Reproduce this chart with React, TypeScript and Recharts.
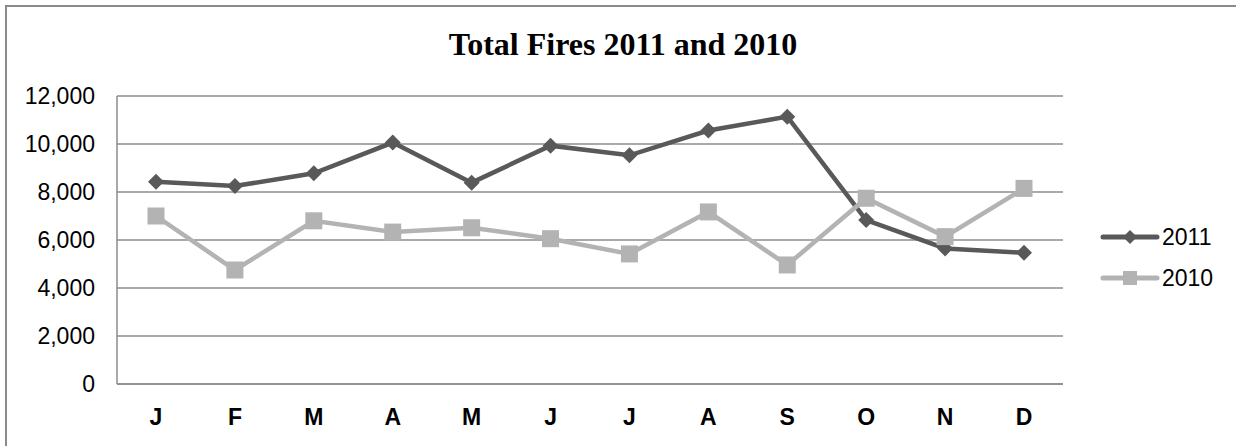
import React from "react";
import { LineChart, Line, XAxis, YAxis, CartesianGrid, Legend } from "recharts";

const months = ["J", "F", "M", "A", "M", "J", "J", "A", "S", "O", "N", "D"];
const fires2011 = [8430, 8250, 8780, 10060, 8390, 9930, 9530, 10560, 11140, 6830, 5650, 5470];
const fires2010 = [7000, 4750, 6800, 6330, 6510, 6055, 5420, 7170, 4960, 7740, 6140, 8150];
const yTicks = [0, 2000, 4000, 6000, 8000, 10000, 12000];
const seriesNames = ["2011", "2010"];
const seriesColors = ["#595959", "#b3b3b3"];

const data = months.map((m, i) => ({
  key: i,
  month: m,
  s2011: fires2011[i],
  s2010: fires2010[i],
}));

const FONT = "'Liberation Sans', Arial, sans-serif";

const Diamond = (props: any) => {
  const { cx, cy, index } = props;
  if (cx == null || cy == null) return <g key={`d${index}`} />;
  const r = 8;
  return (
    <path
      key={`d${index}`}
      d={`M${cx},${cy - r} L${cx + r},${cy} L${cx},${cy + r} L${cx - r},${cy} Z`}
      fill={seriesColors[0]}
    />
  );
};

const Square = (props: any) => {
  const { cx, cy, index } = props;
  if (cx == null || cy == null) return <g key={`s${index}`} />;
  const r = 8.5;
  return <rect key={`s${index}`} x={cx - r} y={cy - r} width={2 * r} height={2 * r} fill={seriesColors[1]} />;
};

const LegendContent = () => {
  return (
    <div style={{ position: "relative", width: 136, height: 90, fontFamily: FONT }}>
      {seriesNames.map((name, i) => (
        <div key={name} style={{ position: "absolute", left: 0, top: i * 41, height: 30, width: 136 }}>
          <svg width={60} height={30} style={{ position: "absolute", left: 0, top: 0 }}>
            <line x1={3} y1={15} x2={57} y2={15} stroke={seriesColors[i]} strokeWidth={5} strokeLinecap="round" />
            {i === 0 ? (
              <path d="M30,8 L37,15 L30,22 L23,15 Z" fill={seriesColors[0]} />
            ) : (
              <rect x={23} y={8} width={14} height={14} fill={seriesColors[1]} />
            )}
          </svg>
          <span
            style={{
              position: "absolute",
              left: 62,
              top: 0,
              lineHeight: "30px",
              fontSize: 23,
              color: "#000",
            }}
          >
            {name}
          </span>
        </div>
      ))}
    </div>
  );
};

export default function App() {
  return (
    <div style={{ position: "absolute", left: 0, top: 0, width: 1236, height: 446, background: "#fff", overflow: "hidden" }}>
      <div
        style={{
          position: "absolute",
          left: 5,
          top: 5,
          width: 1250,
          height: 460,
          border: "2px solid #8a8a8a",
          boxSizing: "border-box",
        }}
      />
      <div
        style={{
          position: "absolute",
          left: 0,
          top: 26,
          width: 1246,
          textAlign: "center",
          fontFamily: "'Liberation Serif', 'Times New Roman', serif",
          fontWeight: "bold",
          fontSize: 32,
          lineHeight: "36px",
          color: "#000",
        }}
      >
        Total Fires 2011 and 2010
      </div>
      <div style={{ position: "absolute", left: 0, top: 0 }}>
        <LineChart
          width={1236}
          height={446}
          data={data}
          margin={{ top: 96, right: 173, bottom: 12, left: 17 }}
        >
          <CartesianGrid vertical={false} stroke="#8c8c8c" strokeWidth={1.5} />
          <XAxis
            dataKey="month"
            interval={0}
            padding={{ left: 39, right: 39 }}
            axisLine={{ stroke: "#8c8c8c", strokeWidth: 1.5 }}
            tickLine={false}
            tickSize={6}
            tickMargin={19}
            height={50}
            tick={{ fill: "#000", fontSize: 23, fontWeight: "bold", fontFamily: FONT }}
            allowDuplicatedCategory={true}
          />
          <YAxis
            domain={[0, 12000]}
            ticks={yTicks}
            width={100}
            axisLine={{ stroke: "#8c8c8c", strokeWidth: 1.5 }}
            tickLine={false}
            tickSize={6}
            tickMargin={16}
            tickFormatter={(v: number) => v.toLocaleString("en-US")}
            tick={{ fill: "#000", fontSize: 23, fontFamily: FONT }}
          />
          <Legend
            layout="horizontal"
            verticalAlign="middle"
            align="center"
            content={LegendContent}
            wrapperStyle={{ left: 1100, top: 222, width: 136, height: 90 }}
          />
          <Line
            name={seriesNames[0]}
            dataKey="s2011"
            stroke={seriesColors[0]}
            strokeWidth={4.5}
            dot={Diamond}
            activeDot={false}
            isAnimationActive={false}
          />
          <Line
            name={seriesNames[1]}
            dataKey="s2010"
            stroke={seriesColors[1]}
            strokeWidth={4.5}
            dot={Square}
            activeDot={false}
            isAnimationActive={false}
          />
        </LineChart>
      </div>
    </div>
  );
}
